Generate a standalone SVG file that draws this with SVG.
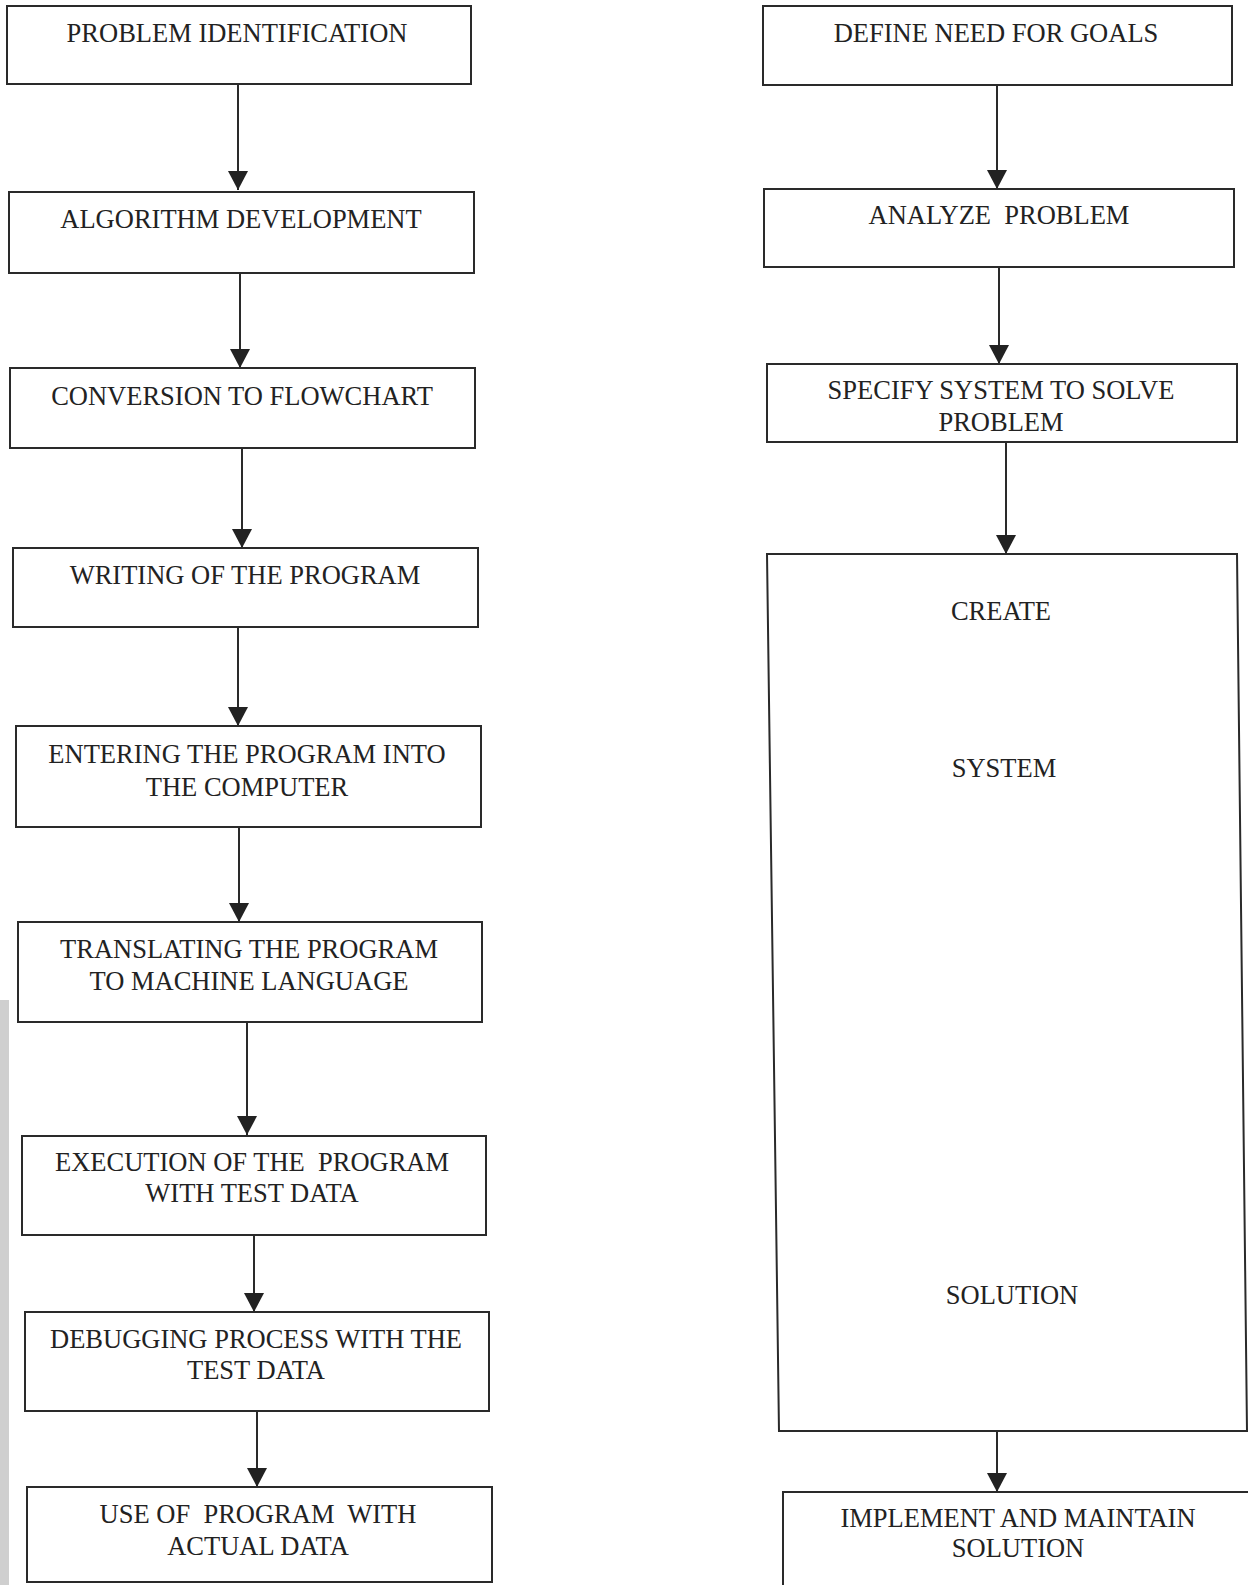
<svg xmlns="http://www.w3.org/2000/svg" width="1248" height="1585" viewBox="0 0 1248 1585">
<style>
.box{fill:none;stroke:#2a2a2a;stroke-width:2}
.lbl{font-family:"Liberation Serif","Times New Roman",serif;font-size:26.5px;fill:#222;text-anchor:middle}
.con{fill:none;stroke:#2a2a2a;stroke-width:2}
</style>
<defs>
<marker id="arr" viewBox="0 0 19 20" refX="19" refY="10" markerWidth="19" markerHeight="20" markerUnits="userSpaceOnUse" orient="auto">
<path d="M0,0 L19,10 L0,20 Z" fill="#222"/>
</marker>
</defs>
<rect x="0" y="1000" width="9" height="585" fill="#cfcfcf"/>
<g id="connectors">
<line class="con" x1="238" y1="84" x2="238" y2="190" marker-end="url(#arr)"/>
<line class="con" x1="240" y1="273" x2="240" y2="368" marker-end="url(#arr)"/>
<line class="con" x1="242" y1="449" x2="242" y2="548" marker-end="url(#arr)"/>
<line class="con" x1="238" y1="627" x2="238" y2="726" marker-end="url(#arr)"/>
<line class="con" x1="239" y1="827" x2="239" y2="922" marker-end="url(#arr)"/>
<line class="con" x1="247" y1="1022" x2="247" y2="1135" marker-end="url(#arr)"/>
<line class="con" x1="254" y1="1235" x2="254" y2="1312" marker-end="url(#arr)"/>
<line class="con" x1="257" y1="1411" x2="257" y2="1487" marker-end="url(#arr)"/>
<line class="con" x1="997" y1="85" x2="997" y2="189" marker-end="url(#arr)"/>
<line class="con" x1="999" y1="267" x2="999" y2="364" marker-end="url(#arr)"/>
<line class="con" x1="1006" y1="442" x2="1006" y2="554" marker-end="url(#arr)"/>
<line class="con" x1="997" y1="1431" x2="997" y2="1492" marker-end="url(#arr)"/>
</g>
<g id="n1"><rect class="box" x="7" y="6" width="464" height="78"/><text class="lbl" x="237" y="42">PROBLEM IDENTIFICATION</text></g>
<g id="n2"><rect class="box" x="9" y="192" width="465" height="81"/><text class="lbl" x="241" y="228">ALGORITHM DEVELOPMENT</text></g>
<g id="n3"><rect class="box" x="10" y="368" width="465" height="80"/><text class="lbl" x="242" y="405">CONVERSION TO FLOWCHART</text></g>
<g id="n4"><rect class="box" x="13" y="548" width="465" height="79"/><text class="lbl" x="245" y="584">WRITING OF THE PROGRAM</text></g>
<g id="n5"><rect class="box" x="16" y="726" width="465" height="101"/><text class="lbl" x="247" y="763">ENTERING THE PROGRAM INTO</text><text class="lbl" x="247" y="796">THE COMPUTER</text></g>
<g id="n6"><rect class="box" x="18" y="922" width="464" height="100"/><text class="lbl" x="249" y="958">TRANSLATING THE PROGRAM</text><text class="lbl" x="249" y="990">TO MACHINE LANGUAGE</text></g>
<g id="n7"><rect class="box" x="22" y="1136" width="464" height="99"/><text class="lbl" x="252" y="1171" xml:space="preserve">EXECUTION OF THE  PROGRAM</text><text class="lbl" x="252" y="1202">WITH TEST DATA</text></g>
<g id="n8"><rect class="box" x="25" y="1312" width="464" height="99"/><text class="lbl" x="256" y="1348">DEBUGGING PROCESS WITH THE</text><text class="lbl" x="256" y="1379">TEST DATA</text></g>
<g id="n9"><rect class="box" x="27" y="1487" width="465" height="95"/><text class="lbl" x="258" y="1523" xml:space="preserve">USE OF  PROGRAM  WITH</text><text class="lbl" x="258" y="1555">ACTUAL DATA</text></g>
<g id="r1"><rect class="box" x="763" y="6" width="469" height="79"/><text class="lbl" x="996" y="42">DEFINE NEED FOR GOALS</text></g>
<g id="r2"><rect class="box" x="764" y="189" width="470" height="78"/><text class="lbl" x="999" y="224" xml:space="preserve">ANALYZE  PROBLEM</text></g>
<g id="r3"><rect class="box" x="767" y="364" width="470" height="78"/><text class="lbl" x="1001" y="399">SPECIFY SYSTEM TO SOLVE</text><text class="lbl" x="1001" y="431">PROBLEM</text></g>
<g id="r4"><path class="box" d="M767,554 L1237,554 L1247,1431 L779,1431 Z"/><text class="lbl" x="1001" y="620">CREATE</text><text class="lbl" x="1004" y="777">SYSTEM</text><text class="lbl" x="1012" y="1304">SOLUTION</text></g>
<g id="r5"><rect class="box" x="783" y="1492" width="480" height="110"/><text class="lbl" x="1018" y="1527">IMPLEMENT AND MAINTAIN</text><text class="lbl" x="1018" y="1557">SOLUTION</text></g>
</svg>
